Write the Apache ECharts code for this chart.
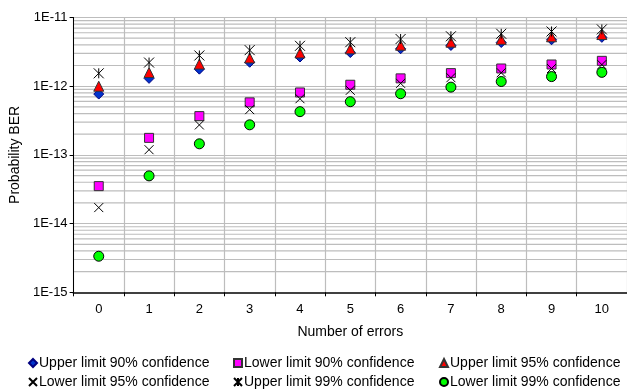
<!DOCTYPE html>
<html>
<head>
<meta charset="utf-8">
<script src="https://cdn.jsdelivr.net/npm/echarts@6/dist/echarts.min.js"></script>
<style>html,body{margin:0;padding:0;background:#fff;}#c{width:627px;height:392px;}</style>
</head>
<body>
<div id="c"></div>
<script>
const categories = ['0','1','2','3','4','5','6','7','8','9','10'];
const upper90 = [7.68e-13, 1.30e-12, 1.77e-12, 2.23e-12, 2.66e-12, 3.09e-12, 3.51e-12, 3.92e-12, 4.33e-12, 4.74e-12, 5.14e-12];
const lower90 = [3.51e-14, 1.77e-13, 3.67e-13, 5.82e-13, 8.11e-13, 1.05e-12, 1.30e-12, 1.55e-12, 1.81e-12, 2.07e-12, 2.34e-12];
const upper95 = [9.99e-13, 1.58e-12, 2.10e-12, 2.58e-12, 3.05e-12, 3.50e-12, 3.95e-12, 4.38e-12, 4.81e-12, 5.24e-12, 5.65e-12];
const lower95 = [1.71e-14, 1.19e-13, 2.73e-13, 4.56e-13, 6.57e-13, 8.71e-13, 1.10e-12, 1.33e-12, 1.57e-12, 1.81e-12, 2.06e-12];
const upper99 = [1.54e-12, 2.21e-12, 2.80e-12, 3.35e-12, 3.87e-12, 4.37e-12, 4.86e-12, 5.33e-12, 5.80e-12, 6.26e-12, 6.71e-12];
const lower99 = [3.35e-15, 4.95e-14, 1.45e-13, 2.74e-13, 4.26e-13, 5.95e-13, 7.77e-13, 9.69e-13, 1.17e-12, 1.38e-12, 1.59e-12];
const seriesNames = ['Upper limit 90% confidence','Lower limit 90% confidence','Upper limit 95% confidence',
                     'Lower limit 95% confidence','Upper limit 99% confidence','Lower limit 99% confidence'];
const decades = [-15, -14, -13, -12];
const minorMultipliers = [2, 3, 4, 5, 6, 7, 8, 9];

const FONT = 'Liberation Sans, Arial, sans-serif';
const minorLines = [];
decades.forEach(d => minorMultipliers.forEach(m => minorLines.push([0, m * Math.pow(10, d)])));

const chart = echarts.init(document.getElementById('c'), null, { renderer: 'canvas' });

const legendCols = [28, 233, 439];
const legendRows = [356, 375];
const legends = seriesNames.map((n, i) => ({
  data: [n],
  left: legendCols[i % 3],
  top: legendRows[Math.floor(i / 3)],
  padding: 0,
  itemWidth: 8,
  itemHeight: 8,
  selectedMode: false,
  textStyle: { fontSize: 14, color: '#000', fontFamily: FONT, padding: [0, 0, 0, -3] }
}));

const X_PATH = 'path://M0 0L10 10M10 0L0 10';
const STAR_PATH = 'path://M0 0L10 10M10 0L0 10M5 0L5 10';

chart.setOption({
  animation: false,
  backgroundColor: '#fff',
  textStyle: { fontFamily: FONT },
  legend: legends,
  grid: { left: 70, top: 17.5, right: -4, bottom: 99.7, containLabel: false },
  xAxis: {
    type: 'category',
    data: categories,
    boundaryGap: true,
    name: 'Number of errors',
    nameLocation: 'middle',
    nameGap: 33,
    nameTextStyle: { fontSize: 14, color: '#000', fontFamily: FONT },
    axisLine: { lineStyle: { color: '#404040', width: 2 } },
    axisTick: { show: true, length: 4, lineStyle: { color: '#000' } },
    axisLabel: { fontSize: 13, color: '#000', margin: 11, fontFamily: FONT },
    splitLine: { show: true, lineStyle: { color: '#bdbdbd', width: 1.2 } }
  },
  yAxis: {
    type: 'log',
    logBase: 10,
    min: 1e-15,
    max: 1e-11,
    splitNumber: 4,
    name: 'Probability BER',
    nameLocation: 'middle',
    nameGap: 47,
    nameTextStyle: { fontSize: 14, color: '#000', fontFamily: FONT },
    axisLine: { show: true, lineStyle: { color: '#000', width: 1 } },
    axisTick: { show: true, length: 4, lineStyle: { color: '#000' } },
    axisLabel: {
      fontSize: 13, color: '#000', margin: 6, fontFamily: FONT,
      formatter: v => '1E' + Math.round(Math.log10(v))
    },
    splitLine: { show: true, lineStyle: { color: '#bdbdbd', width: 1.2 } }
  },
  series: [
    {
      name: 'minor-grid', type: 'custom', silent: true, z: 0,
      data: minorLines,
      renderItem: function (params, api) {
        const cs = params.coordSys;
        const y = api.coord([0, api.value(1)])[1];
        return {
          type: 'line',
          shape: { x1: cs.x, y1: y, x2: cs.x + cs.width, y2: y },
          style: { stroke: '#bdbdbd', lineWidth: 1.2 }
        };
      }
    },
    { name: seriesNames[0], type: 'scatter', data: upper90, symbol: 'diamond', symbolSize: 10,
      itemStyle: { color: '#0033cc', borderColor: '#000080', borderWidth: 1, opacity: 1 } },
    { name: seriesNames[1], type: 'scatter', data: lower90, symbol: 'rect', symbolSize: 9,
      itemStyle: { color: '#ff00ff', borderColor: '#333', borderWidth: 1, opacity: 1 } },
    { name: seriesNames[2], type: 'scatter', data: upper95, symbol: 'triangle', symbolSize: 10,
      itemStyle: { color: '#ff0000', borderColor: '#333', borderWidth: 1, opacity: 1 } },
    { name: seriesNames[3], type: 'scatter', data: lower95, symbol: X_PATH, symbolSize: 9,
      itemStyle: { color: 'rgba(0,0,0,0)', borderColor: '#000', borderWidth: 1, opacity: 1 } },
    { name: seriesNames[4], type: 'scatter', data: upper99, symbol: STAR_PATH, symbolSize: 10,
      itemStyle: { color: 'rgba(0,0,0,0)', borderColor: '#000', borderWidth: 1, opacity: 1 } },
    { name: seriesNames[5], type: 'scatter', data: lower99, symbol: 'circle', symbolSize: 10,
      itemStyle: { color: '#00ff00', borderColor: '#000', borderWidth: 1, opacity: 1 } }
  ]
});
</script>
</body>
</html>
